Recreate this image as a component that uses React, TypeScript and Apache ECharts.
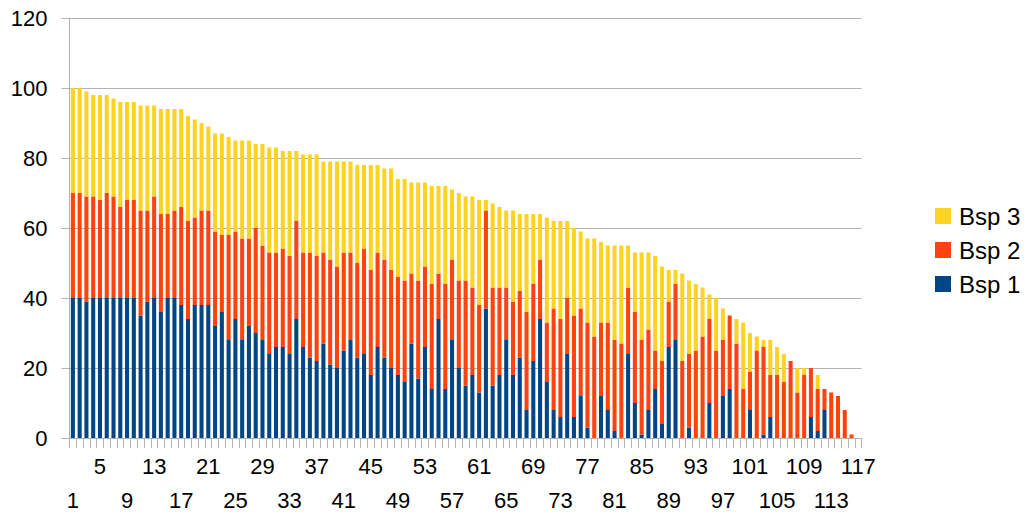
import React, { useEffect, useRef } from "react";
import * as echarts from "echarts";

const categories: string[] = Array.from({ length: 117 }, (_, i) => String(i + 1));

const bsp1: number[] = [
  40, 40, 39, 40, 40, 40, 40, 40, 40, 40,
  35, 39, 40, 36, 40, 40, 38, 34, 38, 38,
  38, 32, 36, 28, 34, 28, 32, 30, 28, 24,
  26, 26, 24, 34, 26, 23, 22, 27, 21, 20,
  25, 28, 23, 24, 18, 26, 23, 20, 18, 16,
  27, 17, 26, 14, 34, 14, 28, 20, 15, 18,
  13, 37, 15, 18, 28, 18, 23, 8, 22, 34,
  16, 8, 6, 24, 6, 12, 3, 0, 12, 8,
  2, 0, 24, 10, 1, 8, 14, 4, 26, 28,
  0, 3, 0, 0, 10, 0, 12, 14, 0, 0,
  8, 0, 1, 6, 0, 0, 0, 0, 0, 6,
  2, 8, 0, 0, 0, 0, 0,
];

const bsp2: number[] = [
  30, 30, 30, 29, 28, 30, 29, 26, 28, 28,
  30, 26, 29, 28, 24, 25, 28, 28, 25, 27,
  27, 27, 22, 30, 25, 29, 25, 30, 27, 29,
  27, 28, 28, 28, 27, 30, 30, 26, 30, 29,
  28, 25, 27, 30, 30, 27, 28, 28, 28, 29,
  20, 28, 23, 30, 13, 30, 23, 25, 30, 25,
  25, 28, 28, 25, 15, 21, 19, 28, 22, 17,
  17, 29, 28, 16, 29, 25, 30, 29, 21, 25,
  26, 27, 19, 26, 27, 23, 11, 18, 13, 16,
  22, 21, 25, 29, 24, 25, 16, 21, 27, 14,
  11, 25, 25, 12, 18, 16, 22, 13, 18, 14,
  12, 6, 13, 12, 8, 1, 0,
];

const bsp3: number[] = [
  30, 30, 30, 29, 30, 28, 28, 30, 28, 28,
  30, 30, 26, 30, 30, 29, 28, 30, 28, 25,
  24, 28, 29, 28, 26, 28, 28, 24, 29, 30,
  30, 28, 30, 20, 28, 28, 29, 26, 28, 30,
  26, 26, 28, 24, 30, 25, 26, 29, 28, 29,
  26, 28, 24, 28, 25, 28, 20, 25, 24, 26,
  30, 3, 24, 23, 22, 26, 22, 28, 20, 13,
  30, 25, 28, 22, 25, 22, 24, 28, 23, 22,
  27, 28, 12, 17, 25, 22, 27, 27, 9, 4,
  25, 21, 19, 14, 7, 15, 9, 0, 7, 19,
  11, 4, 2, 10, 8, 8, 0, 7, 2, 0,
  4, 0, 0, 0, 0, 0, 0,
];

const yTicks = { min: 0, max: 120, interval: 20 };

const FONT = "Liberation Sans";

export default function App() {
  const ref = useRef<HTMLDivElement>(null);
  useEffect(() => {
    if (!ref.current) return;
    const chart = echarts.init(ref.current, undefined, { renderer: "svg" });
    const mk = (name: string, data: number[], color: string) => ({
      name,
      type: "bar",
      stack: "total",
      xAxisIndex: 0,
      data,
      barCategoryGap: "40%",
      itemStyle: { color },
      emphasis: { disabled: true },
    });
    const labelBase = {
      fontFamily: FONT,
      fontSize: 22,
      lineHeight: 24,
      color: "#000",
      hideOverlap: false,
    };
    chart.setOption({
      animation: false,
      backgroundColor: "#ffffff",
      textStyle: { fontFamily: FONT },
      grid: { left: 69.5, right: 170.3, top: 18, bottom: 85, containLabel: false },
      legend: {
        data: ["Bsp 3", "Bsp 2", "Bsp 1"],
        orient: "vertical",
        left: 930,
        top: 199,
        icon: "rect",
        itemWidth: 16,
        itemHeight: 16,
        itemGap: 10,
        textStyle: { fontFamily: FONT, fontSize: 24, color: "#000", lineHeight: 24, padding: [0, 0, 0, 3] },
      },
      xAxis: [
        {
          type: "category",
          data: categories,
          boundaryGap: true,
          axisLine: { lineStyle: { color: "#b3b3b3" } },
          axisTick: { show: true, interval: 0, length: 10, lineStyle: { color: "#b3b3b3" } },
          axisLabel: {
            ...labelBase,
            margin: 16,
            interval: (i: number) => i % 8 === 4,
          },
          splitLine: { show: false },
        },
        {
          type: "category",
          data: categories,
          boundaryGap: true,
          position: "bottom",
          axisLine: { show: false },
          axisTick: { show: false },
          axisLabel: {
            ...labelBase,
            margin: 50,
            interval: (i: number) => i % 8 === 0,
          },
          splitLine: { show: false },
        },
      ],
      yAxis: {
        type: "value",
        min: yTicks.min,
        max: yTicks.max,
        interval: yTicks.interval,
        axisLine: { show: true, lineStyle: { color: "#b3b3b3" } },
        axisTick: { show: true, length: 8, lineStyle: { color: "#b3b3b3" } },
        axisLabel: { fontFamily: FONT, fontSize: 22, color: "#000", margin: 22 },
        splitLine: { show: true, lineStyle: { color: "#b3b3b3" } },
      },
      series: [
        mk("Bsp 1", bsp1, "#004586"),
        mk("Bsp 2", bsp2, "#ff420e"),
        mk("Bsp 3", bsp3, "#ffd320"),
      ],
    });
    return () => chart.dispose();
  }, []);
  return (
    <div
      ref={ref}
      style={{ position: "fixed", left: 0, top: 0, width: 1032, height: 523, background: "#fff" }}
    />
  );
}
